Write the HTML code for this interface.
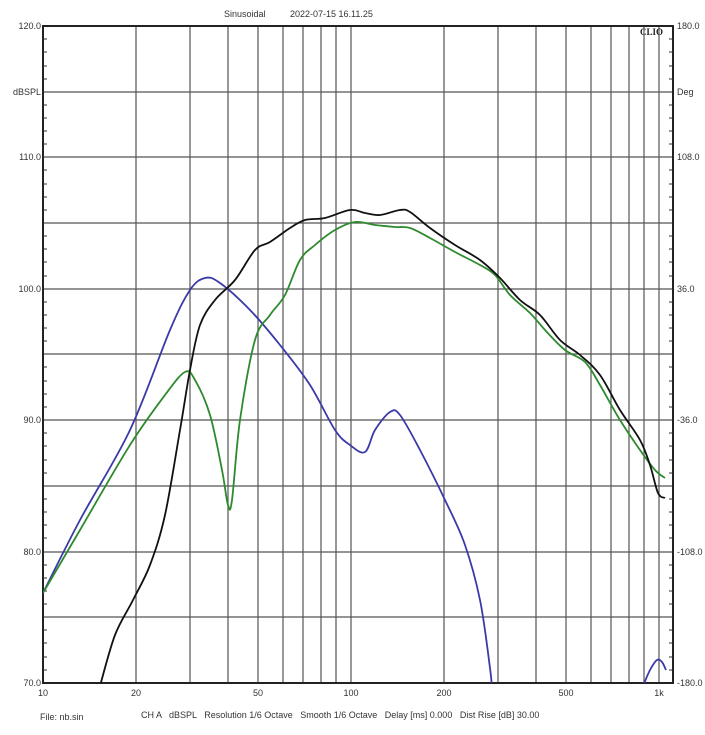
<!DOCTYPE html>
<html><head><style>
body{margin:0;background:#fff;}
svg{display:block;font-family:"Liberation Sans",sans-serif;}
</style></head><body>
<svg width="705" height="735" viewBox="0 0 705 735" xmlns="http://www.w3.org/2000/svg">
<rect width="705" height="735" fill="#fff"/>
<g stroke="#555" stroke-width="1.2">
<line x1="43" x2="673" y1="92" y2="92"/><line x1="43" x2="673" y1="157" y2="157"/>
<line x1="43" x2="673" y1="223" y2="223"/><line x1="43" x2="673" y1="289" y2="289"/>
<line x1="43" x2="673" y1="354" y2="354"/><line x1="43" x2="673" y1="420" y2="420"/>
<line x1="43" x2="673" y1="486" y2="486"/><line x1="43" x2="673" y1="552" y2="552"/>
<line x1="43" x2="673" y1="617" y2="617"/>
<line y1="26" y2="683" x1="136" x2="136"/><line y1="26" y2="683" x1="190" x2="190"/>
<line y1="26" y2="683" x1="228" x2="228"/><line y1="26" y2="683" x1="258" x2="258"/>
<line y1="26" y2="683" x1="283" x2="283"/><line y1="26" y2="683" x1="303" x2="303"/>
<line y1="26" y2="683" x1="321" x2="321"/><line y1="26" y2="683" x1="336" x2="336"/>
<line y1="26" y2="683" x1="351" x2="351"/><line y1="26" y2="683" x1="444" x2="444"/>
<line y1="26" y2="683" x1="498" x2="498"/><line y1="26" y2="683" x1="536" x2="536"/>
<line y1="26" y2="683" x1="566" x2="566"/><line y1="26" y2="683" x1="591" x2="591"/>
<line y1="26" y2="683" x1="611" x2="611"/><line y1="26" y2="683" x1="629" x2="629"/>
<line y1="26" y2="683" x1="644" x2="644"/><line y1="26" y2="683" x1="659" x2="659"/>
</g>
<rect x="43" y="26" width="630" height="657" fill="none" stroke="#222" stroke-width="2"/>
<g stroke="#333" stroke-width="1">
<path d="M43 39h4M43 52h4M43 66h4M43 79h4M43 105h4M43 118h4M43 131h4M43 144h4M43 170h4M43 184h4M43 197h4M43 210h4M43 236h4M43 249h4M43 262h4M43 276h4M43 302h4M43 315h4M43 328h4M43 341h4M43 367h4M43 381h4M43 394h4M43 407h4M43 433h4M43 446h4M43 460h4M43 473h4M43 499h4M43 512h4M43 525h4M43 538h4M43 565h4M43 578h4M43 591h4M43 604h4M43 630h4M43 643h4M43 657h4M43 670h4"/>
<path d="M673 39h-4M673 52h-4M673 66h-4M673 79h-4M673 105h-4M673 118h-4M673 131h-4M673 144h-4M673 170h-4M673 184h-4M673 197h-4M673 210h-4M673 236h-4M673 249h-4M673 262h-4M673 276h-4M673 302h-4M673 315h-4M673 328h-4M673 341h-4M673 367h-4M673 381h-4M673 394h-4M673 407h-4M673 433h-4M673 446h-4M673 460h-4M673 473h-4M673 499h-4M673 512h-4M673 525h-4M673 538h-4M673 565h-4M673 578h-4M673 591h-4M673 604h-4M673 630h-4M673 643h-4M673 657h-4M673 670h-4"/>
</g>
<g font-size="9" fill="#333" text-anchor="end">
<text x="41" y="29">120.0</text><text x="41" y="95">dBSPL</text><text x="41" y="160">110.0</text>
<text x="41" y="292">100.0</text><text x="41" y="423">90.0</text><text x="41" y="555">80.0</text><text x="41" y="686">70.0</text>
</g>
<g font-size="9" fill="#333">
<text x="677" y="29">180.0</text><text x="677" y="95">Deg</text><text x="677" y="160">108.0</text>
<text x="677" y="292">36.0</text><text x="677" y="423">-36.0</text><text x="677" y="555">-108.0</text><text x="677" y="686">-180.0</text>
<text x="224" y="17">Sinusoidal</text><text x="290" y="17">2022-07-15 16.11.25</text>
<text x="40" y="720">File: nb.sin</text>
<text x="141" y="718" xml:space="preserve">CH A   dBSPL   Resolution 1/6 Octave   Smooth 1/6 Octave   Delay [ms] 0.000   Dist Rise [dB] 30.00</text>
</g>
<text x="640" y="35" font-size="9" font-weight="bold" font-family="Liberation Serif,serif" fill="#222">CLIO</text>
<g font-size="9" fill="#333" text-anchor="middle">
<text x="43" y="696">10</text><text x="136" y="696">20</text><text x="258" y="696">50</text>
<text x="351" y="696">100</text><text x="444" y="696">200</text><text x="566" y="696">500</text><text x="659" y="696">1k</text>
</g>
<defs><clipPath id="c"><rect x="43" y="26" width="630" height="657"/></clipPath></defs>
<g fill="none" stroke-width="1.8" stroke-linejoin="round" clip-path="url(#c)">
<path class="s" stroke="#3a3aa8" data-p="43,593 80,520 130,430 170,330 190,290 205,278 220,283 250,310 280,345 310,385 335,430 350,445 365,452 375,430 390,412 400,415 420,450 445,500 465,545 480,600 490,668 492,690"/>
<path class="s" stroke="#3a3aa8" data-p="643,686 650,670 657,660 662,662 666,670"/>
<path class="s" stroke="#2e8a2e" data-p="43,593 80,530 130,445 165,395 185,372 195,380 210,415 222,470 228,505 232,500 240,420 255,340 270,315 285,295 300,260 315,245 335,230 355,222 375,225 395,227 410,228 430,238 455,252 480,265 495,275 510,295 530,313 545,330 565,350 585,362 600,385 620,420 640,450 655,470 665,478"/>
<path class="s" stroke="#111" data-p="100,686 115,635 133,600 150,565 165,515 180,430 190,370 200,325 215,300 235,280 255,250 270,242 290,228 305,220 325,218 350,210 365,213 380,215 400,210 410,212 430,228 455,245 480,260 500,278 520,300 540,315 560,340 580,355 600,375 620,410 640,440 650,465 658,493 665,498"/>
</g>
</svg>
<script>
document.querySelectorAll('path.s').forEach(function(el){
 var p=el.getAttribute('data-p').trim().split(/\s+/).map(function(s){return s.split(',').map(Number);});
 var d='M'+p[0][0]+' '+p[0][1];
 for(var i=0;i<p.length-1;i++){
  var a=p[i-1]||p[i],b=p[i],c=p[i+1],e=p[i+2]||c;
  var c1=[b[0]+(c[0]-a[0])/6,b[1]+(c[1]-a[1])/6],c2=[c[0]-(e[0]-b[0])/6,c[1]-(e[1]-b[1])/6];
  d+=' C'+c1[0].toFixed(1)+' '+c1[1].toFixed(1)+' '+c2[0].toFixed(1)+' '+c2[1].toFixed(1)+' '+c[0]+' '+c[1];
 }
 el.setAttribute('d',d);
});
</script>
</body></html>
